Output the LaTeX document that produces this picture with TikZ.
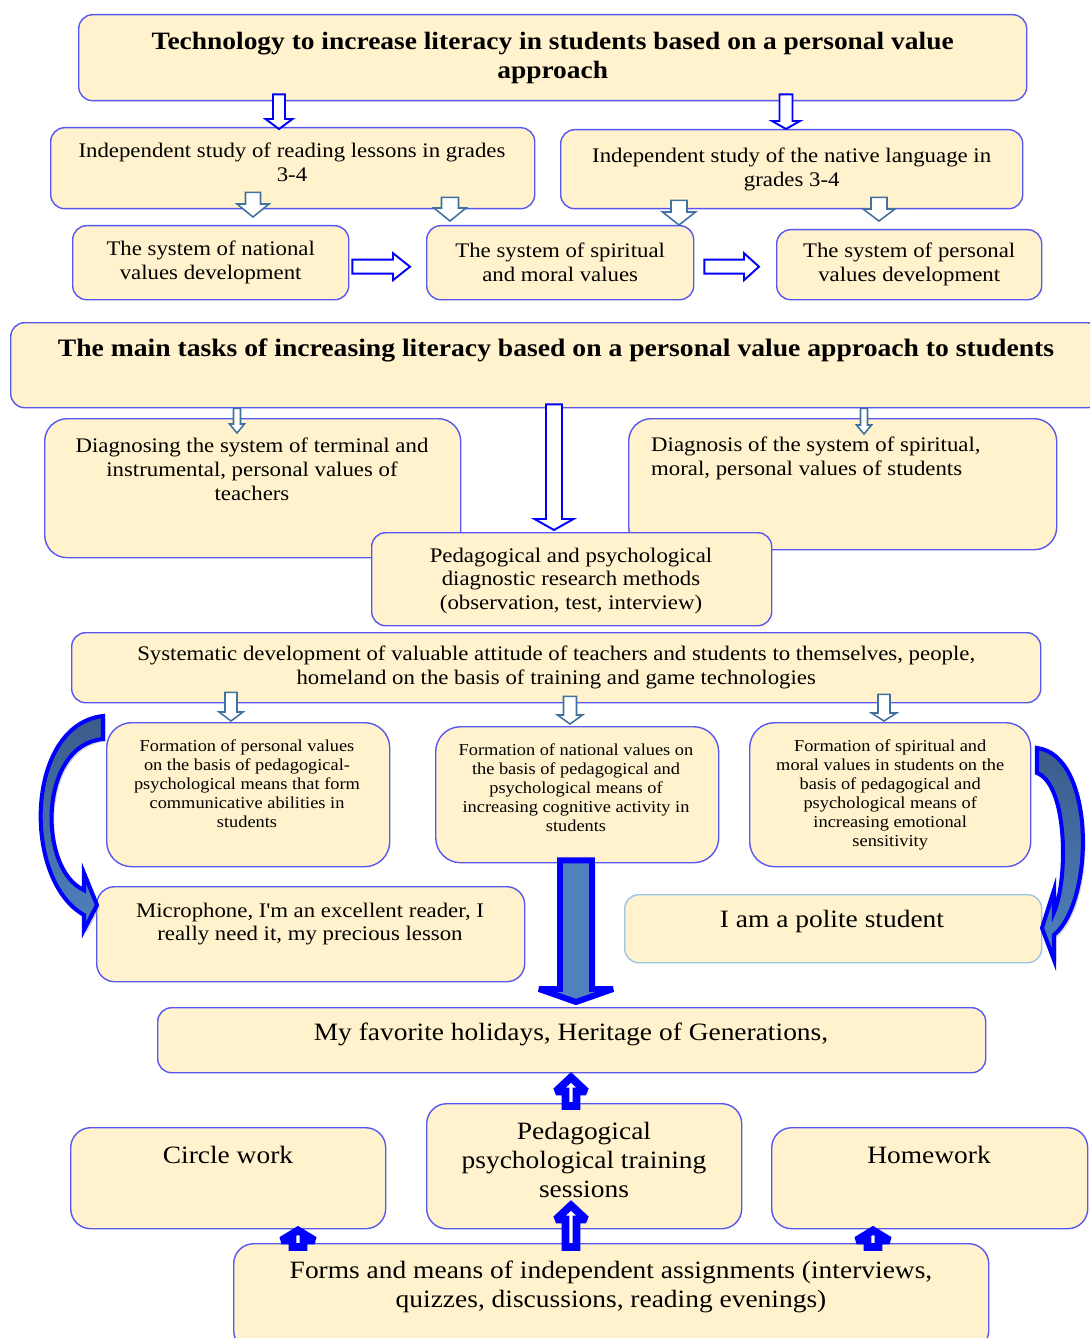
\documentclass[tikz,border=0pt]{standalone}
\usepackage{fontspec}
\setmainfont{Liberation Serif}[FakeStretch=1.1]
\usetikzlibrary{calc, positioning, shadows}
\definecolor{boxfill}{RGB}{255,242,204}
\definecolor{boxline}{RGB}{88,88,240}
\definecolor{paleline}{RGB}{157,195,230}
\definecolor{steelline}{RGB}{65,113,156}
\definecolor{steelfill}{RGB}{79,129,189}
\definecolor{steeldark}{RGB}{58,92,140}
\definecolor{arrowblue}{RGB}{0,0,255}

\newcommand{\pxl}{0.02cm}
% block arrow: #1 style, #2 from, #3 tip, #4 half shaft, #5 half head, #6 head length (px)
\newcommand{\blockarrow}[6]{%
  \coordinate (ba-s) at (#2);
  \coordinate (ba-e) at (#3);
  \coordinate (ba-b) at ($(ba-e)!#6*\pxl!(ba-s)$);
  \draw[#1] ($(ba-s)!#4*\pxl!90:(ba-e)$) -- ($(ba-b)!#4*\pxl!-90:(ba-s)$)
    -- ($(ba-b)!#5*\pxl!-90:(ba-s)$) -- (ba-e) -- ($(ba-b)!#5*\pxl!90:(ba-s)$)
    -- ($(ba-b)!#4*\pxl!90:(ba-s)$) -- ($(ba-s)!#4*\pxl!-90:(ba-e)$) -- cycle;}

\begin{document}
\begin{tikzpicture}[
    x=0.02cm, y=-0.02cm,
    box/.style={
        rectangle,
        rounded corners=0.28cm,
        draw=boxline,
        line width=0.8pt,
        fill=boxfill,
        inner sep=0pt,
        anchor=north west
    },
    sz/.style 2 args={minimum width=#1*\pxl, minimum height=#2*\pxl},
    ttl/.style={font=\fontsize{14.2}{16.4}\selectfont\bfseries, align=center},
    med/.style={font=\fontsize{11.8}{13.6}\selectfont, align=center},
    sml/.style={font=\fontsize{9.5}{10.8}\selectfont, align=center},
    big/.style={font=\fontsize{14.2}{16.3}\selectfont, align=center},
    hollowblue/.style={draw=arrowblue, fill=white, line width=1.1pt},
    hollowsteel/.style={draw=steelline, fill=white, line width=0.9pt},
    fatarrow/.style={
        draw=arrowblue, fill=steelfill, line width=3.4pt, miter limit=2,
        drop shadow={shadow xshift=2pt, shadow yshift=-1pt, fill=black!35}
    },
    uparrow/.style={
        draw=arrowblue, fill=white, line width=4.4pt, miter limit=2,
        drop shadow={shadow xshift=1.5pt, shadow yshift=-1pt, fill=black!35}
    },
    curvearrow/.style={
        draw=arrowblue, line width=2.3pt,
        top color=steeldark, bottom color=steelfill,
        drop shadow={shadow xshift=1.5pt, shadow yshift=-1.5pt, fill=black!35}
    }
]
\useasboundingbox (0,0) rectangle (1089,1338);

% top part
\node[box, ttl, sz={948}{86}] (title) at (78,14)
    {Technology to increase literacy in students based on a personal value\\approach};
\node[box, sz={484}{81}] (read) at (50,127) {};
\node[med] (read-t) at (292,162)
    {Independent study of reading lessons in grades\\3-4};
\node[box, med, sz={462}{79}] (native) at (560,129)
    {Independent study of the native language in\\grades 3-4};
\node[box, med, sz={276}{74}] (national) at (72,225)
    {The system of national\\values development};
\node[box, med, sz={267}{74}] (spiritual) at (426,225)
    {The system of spiritual\\and moral values};
\node[box, med, sz={265}{70}] (personal) at (776,229)
    {The system of personal\\values development};

% main tasks and diagnosis
\node[box, sz={1090}{85}] (main) at (10,322) {};
\node[ttl, font=\fontsize{14.3}{17}\selectfont\bfseries] (main-t) at (556,350)
    {The main tasks of increasing literacy based on a personal value approach to students};
\node[box, sz={416}{139}, rounded corners=0.45cm] (diagL) at (44,418) {};
\node[med] (diagL-t) at (252,469)
    {Diagnosing the system of terminal and\\instrumental, personal values of\\teachers};
\node[box, sz={428}{131}, rounded corners=0.45cm] (diagR) at (628,418) {};
\node[med, align=left, anchor=west] (diagR-t) at (645,458)
    {Diagnosis of the system of spiritual,\\moral, personal values of students};
\node[box, sz={400}{93}] (pedag) at (371,532) {};
\node[med] (pedag-t) at (571,581)
    {Pedagogical and psychological\\diagnostic research methods\\(observation, test, interview)};

% development and formation
\node[box, med, sz={969}{70}] (system) at (71,632)
    {Systematic development of valuable attitude of teachers and students to themselves, people,\\homeland on the basis of training and game technologies};
\node[box, sz={283}{144}, rounded corners=0.5cm] (formA) at (106,722) {};
\node[sml] (formA-t) at (247,784)
    {Formation of personal values\\on the basis of pedagogical-\\psychological means that form\\communicative abilities in\\students};
\node[box, sz={283}{136}, rounded corners=0.5cm] (formB) at (435,726) {};
\node[sml] (formB-t) at (576,788)
    {Formation of national values on\\the basis of pedagogical and\\psychological means of\\increasing cognitive activity in\\students};
\node[box, sml, sz={281}{144}, rounded corners=0.5cm] (formC) at (749,722)
    {Formation of spiritual and\\moral values in students on the\\basis of pedagogical and\\psychological means of\\increasing emotional\\sensitivity};
\node[box, sz={428}{95}, rounded corners=0.36cm] (micro) at (96,886) {};
\node[med] (micro-t) at (310,924)
    {Microphone, I\textquotesingle m an excellent reader, I\\really need it, my precious lesson};
\node[box, sz={417}{68}, draw=paleline] (polite) at (624,894) {};
\node[big] (polite-t) at (832,921) {I am a polite student};

% bottom part
\node[box, sz={828}{65}] (holidays) at (157,1007) {};
\node[big] (holidays-t) at (571,1034) {My favorite holidays, Heritage of Generations,};
\node[box, sz={315}{125}, rounded corners=0.4cm] (training) at (426,1103) {};
\node[big] (training-t) at (584,1160)
    {Pedagogical\\psychological training\\sessions};
\node[box, sz={315}{101}, rounded corners=0.4cm] (circle) at (70,1127) {};
\node[big] (circle-t) at (228,1155) {Circle work};
\node[box, sz={316}{101}, rounded corners=0.4cm] (homework) at (771,1127) {};
\node[big] (homework-t) at (929,1155) {Homework};
\node[box, sz={755}{107}, rounded corners=0.4cm] (forms) at (233,1243) {};
\node[big] (forms-t) at (611,1287)
    {Forms and means of independent assignments (interviews,\\quizzes, discussions, reading evenings)};

% block arrows
\blockarrow{hollowblue}{$(title.south -| 279,0)+(0,-7)$}{$(read.north -| 279,0)+(0,2)$}{6}{13.5}{10}
\blockarrow{hollowblue}{$(title.south -| 786,0)+(0,-7)$}{native.north -| 786,0}{6.5}{14}{8}
\blockarrow{hollowsteel}{$(read.south -| 253,0)+(0,-17)$}{$(national.north -| 253,0)+(0,-8)$}{7.5}{16}{13}
\blockarrow{hollowsteel}{$(read.south -| 450,0)+(0,-12)$}{$(spiritual.north -| 450,0)+(0,-4)$}{8.5}{16}{13}
\blockarrow{hollowsteel}{$(native.south -| 679,0)+(0,-9)$}{spiritual.north -| 679,0}{8}{16.5}{13}
\blockarrow{hollowsteel}{$(native.south -| 879,0)+(0,-12)$}{$(personal.north -| 879,0)+(0,-8)$}{8}{16}{12}
\blockarrow{hollowblue}{$(national.east)+(3,4)$}{$(spiritual.west)+(-16,4)$}{7}{13.5}{17}
\blockarrow{hollowblue}{$(spiritual.east)+(10,4)$}{$(personal.west)+(-17,2)$}{7}{13.5}{15}

\blockarrow{hollowsteel}{main.south -| 237,0}{$(diagL.north -| 237,0)+(0,15)$}{3.5}{7.5}{9}
\blockarrow{hollowsteel}{main.south -| 864,0}{$(diagR.north -| 864,0)+(0,16)$}{3.5}{7.5}{9}
\blockarrow{hollowblue}{$(main.south -| 554,0)+(0,-4)$}{$(pedag.north -| 554,0)+(0,-2)$}{8}{19.5}{11}

\blockarrow{hollowsteel}{$(system.south -| 231,0)+(0,-11)$}{$(formA.north -| 231,0)+(0,-1)$}{6}{12}{9}
\blockarrow{hollowsteel}{$(system.south -| 570,0)+(0,-7)$}{$(formB.north -| 570,0)+(0,-2)$}{6.5}{12.5}{9}
\blockarrow{hollowsteel}{$(system.south -| 884,0)+(0,-9)$}{$(formC.north -| 884,0)+(0,-1)$}{6}{12.5}{8}

\blockarrow{fatarrow}{$(formB.south -| 576,0)+(0,-3)$}{$(holidays.north -| 576,0)+(0,-5)$}{16}{37}{13}
\blockarrow{uparrow}{$(training.north -| 571,0)+(0,3)$}{$(holidays.south -| 571,0)+(0,4)$}{5.5}{15}{14}
\blockarrow{uparrow}{$(forms.north -| 298,0)+(0,4)$}{$(circle.south -| 298,0)+(0,1)$}{5.5}{16.5}{10}
\blockarrow{uparrow}{$(forms.north -| 571,0)+(0,4)$}{$(training.south -| 571,0)+(0,-24)$}{5.5}{15}{14}
\blockarrow{uparrow}{$(forms.north -| 873,0)+(0,4)$}{$(homework.south -| 873,0)+(0,1)$}{5.5}{16.5}{10}

% curved arrows
\draw[curvearrow] (103,716) .. controls (25,725) and (22,880) .. (84,915)
    -- (84,930) -- (97,905) -- (84,873) -- (84,890)
    .. controls (38,870) and (38,745) .. (103,739) -- cycle;
\draw[curvearrow] (1037,748) .. controls (1095,755) and (1095,900) .. (1054,935)
    -- (1054,960) -- (1042,928) -- (1054,890) -- (1054,912)
    .. controls (1068,880) and (1068,785) .. (1037,773) -- cycle;
\end{tikzpicture}
\end{document}
